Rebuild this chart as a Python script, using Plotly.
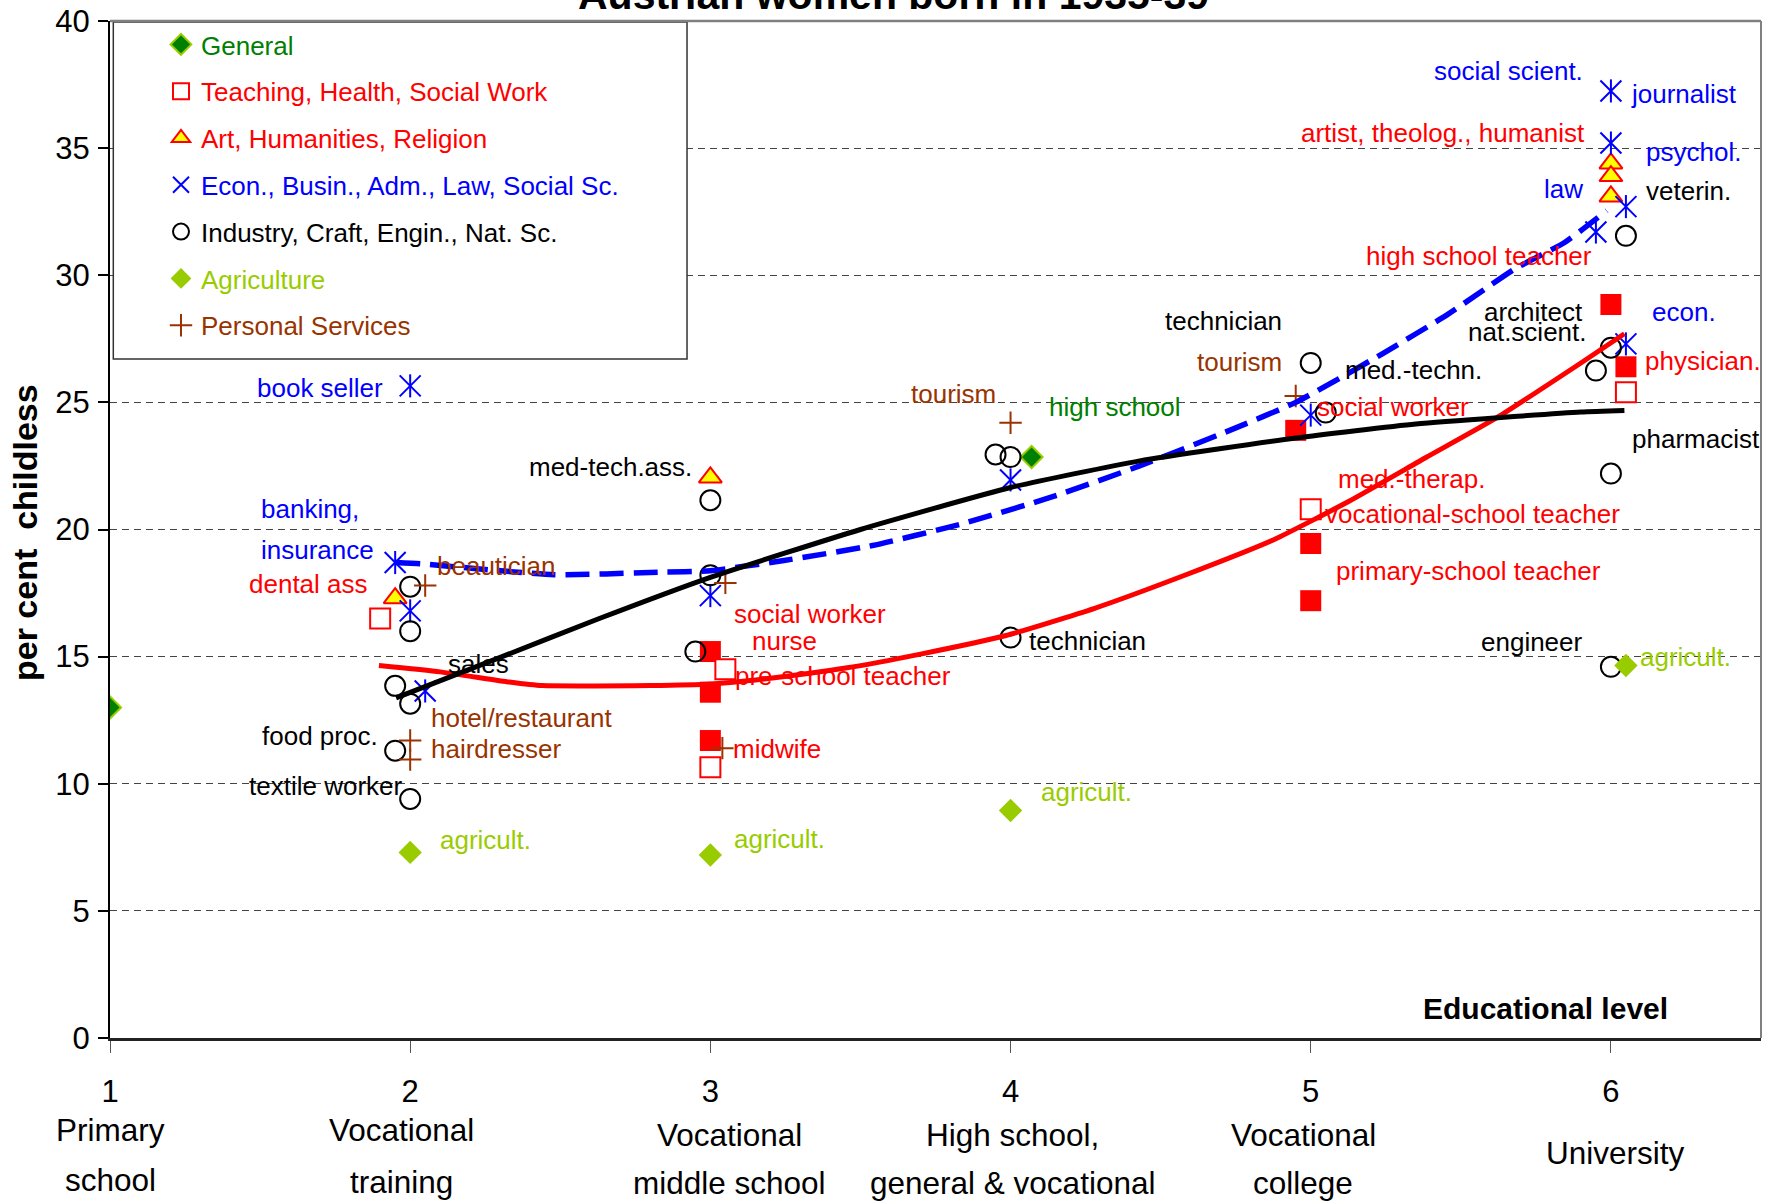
import plotly.graph_objects as go

FONT = "Liberation Sans, Arial, sans-serif"

BLUE = "#0000FF"
RED = "#FF0000"
BROWN = "#993300"
DGREEN = "#008000"
YGREEN = "#99CC00"
BLACK = "#000000"

# ---------------- data ----------------
general_x = [1.0, 4.07]
general_y = [13.0, 22.85]

teach_open_x = [1.9, 3.05, 3.0, 5.0, 6.05]
teach_open_y = [16.5, 14.5, 10.65, 20.8, 25.4]
teach_fill_x = [3.0, 3.0, 3.0, 4.95, 5.0, 5.0, 6.0, 6.05]
teach_fill_y = [15.2, 13.6, 11.7, 23.9, 19.45, 17.2, 28.85, 26.4]

art_x = [1.95, 3.0, 6.0, 6.0, 6.0]
art_y = [17.3, 22.05, 34.4, 33.9, 33.1]

econ_x = [2.0, 1.95, 2.0, 2.05, 3.0, 4.0, 5.0, 6.0, 6.0, 6.05, 5.95, 6.05]
econ_y = [25.65, 18.7, 16.8, 13.65, 17.4, 21.95, 24.5, 37.25, 35.2, 32.7, 31.7, 27.3]

ind_x = [1.95, 2.0, 2.0, 2.0, 1.95, 2.0, 3.0, 3.0, 2.95, 3.95, 4.0, 4.0,
         5.0, 5.05, 5.95, 6.0, 6.05, 6.0, 6.0]
ind_y = [13.85, 13.15, 17.75, 16.0, 11.3, 9.4, 21.15, 18.2, 15.2, 22.95, 22.85, 15.75,
         26.55, 24.6, 26.25, 27.15, 31.55, 22.2, 14.6]

agri_x = [2.0, 3.0, 4.0, 6.05]
agri_y = [7.3, 7.2, 8.95, 14.65]

pers_x = [2.05, 2.0, 2.0, 3.05, 3.04, 4.0, 4.95]
pers_y = [17.8, 11.7, 10.95, 17.9, 11.4, 24.2, 25.25]

trend_black_x = [1.953, 2.3, 2.63, 3.0, 3.5, 4.0, 4.43, 4.95, 5.35, 5.9, 6.045]
trend_black_y = [13.38, 14.97, 16.5, 18.12, 20.0, 21.65, 22.7, 23.6, 24.15, 24.62, 24.68]

trend_red_x = [1.896, 2.1, 2.33, 2.44, 2.8, 3.0, 3.2, 3.45, 3.7, 3.985, 4.28, 4.58,
               4.877, 5.126, 5.385, 5.62, 5.9, 6.045]
trend_red_y = [14.65, 14.4, 14.0, 13.86, 13.86, 13.92, 14.15, 14.55, 15.1, 15.83, 16.9, 18.2,
               19.6, 21.1, 22.84, 24.4, 26.55, 27.7]

trend_blue_x = [1.953, 2.036, 2.48, 2.83, 3.0, 3.245, 3.54, 3.837, 4.135, 4.43, 4.73, 4.95,
                5.237, 5.459, 5.68, 5.847, 5.986]
trend_blue_y = [18.7, 18.65, 18.22, 18.32, 18.38, 18.78, 19.37, 20.22, 21.27, 22.5, 23.9, 25.0,
                26.9, 28.48, 30.25, 31.3, 32.54]

level_ticks = [1, 2, 3, 4, 5, 6]
y_ticks = [0, 5, 10, 15, 20, 25, 30, 35, 40]

# category names (lines) under the level numbers: text, x, pixel row
category_lines = [
    ("Primary", 1.0, 1130), ("school", 1.0, 1180),
    ("Vocational", 1.97, 1130), ("training", 1.97, 1182),
    ("Vocational", 3.065, 1135), ("middle school", 3.065, 1183),
    ("High school,", 4.008, 1135), ("general &amp; vocational", 4.008, 1183),
    ("Vocational", 4.975, 1135), ("college", 4.975, 1183),
    ("University", 6.015, 1153),
]

# point labels: text, x, y, anchor, colour
point_labels = [
    ("book seller", 1.917, 25.56, "right", BLUE),
    ("banking,", 1.496, 20.8, "left", BLUE),
    ("insurance", 1.496, 19.2, "left", BLUE),
    ("dental ass", 1.865, 17.87, "right", RED),
    ("beautician", 2.083, 18.58, "left", BROWN),
    ("sales", 2.12, 14.71, "left", BLACK),
    ("hotel/restaurant", 2.064, 12.58, "left", BROWN),
    ("hairdresser", 2.064, 11.38, "left", BROWN),
    ("food proc.", 1.898, 11.87, "right", BLACK),
    ("textile worker", 1.981, 9.91, "right", BLACK),
    ("agricult.", 2.094, 7.78, "left", YGREEN),
    ("med-tech.ass.", 2.947, 22.44, "right", BLACK),
    ("social worker", 3.071, 16.67, "left", RED),
    ("nurse", 3.132, 15.6, "left", RED),
    ("pre-school teacher", 3.075, 14.22, "left", RED),
    ("midwife", 3.07, 11.38, "left", RED),
    ("agricult.", 3.071, 7.82, "left", YGREEN),
    ("tourism", 3.959, 25.33, "right", BROWN),
    ("high school", 4.12, 24.8, "left", DGREEN),
    ("technician", 4.056, 15.6, "left", BLACK),
    ("agricult.", 4.094, 9.69, "left", YGREEN),
    ("technician", 4.91, 28.22, "right", BLACK),
    ("tourism", 4.91, 26.58, "right", BROWN),
    ("med.-techn.", 5.109, 26.27, "left", BLACK),
    ("social worker", 5.015, 24.8, "left", RED),
    ("med.-therap.", 5.084, 21.98, "left", RED),
    ("vocational-school teacher", 5.042, 20.61, "left", RED),
    ("primary-school teacher", 5.079, 18.38, "left", RED),
    ("engineer", 5.914, 15.56, "right", BLACK),
    ("agricult.", 6.09, 14.98, "left", YGREEN),
    ("pharmacist", 6.064, 23.56, "left", BLACK),
    ("physician.", 6.108, 26.64, "left", RED),
    ("econ.", 6.13, 28.54, "left", BLUE),
    ("architect", 5.914, 28.54, "right", BLACK),
    ("nat.scient.", 5.927, 27.75, "right", BLACK),
    ("high school teacher", 5.943, 30.77, "right", RED),
    ("law", 5.914, 33.39, "right", BLUE),
    ("veterin.", 6.109, 33.33, "left", BLACK),
    ("psychol.", 6.109, 34.83, "left", BLUE),
    ("artist, theolog., humanist", 5.92, 35.6, "right", RED),
    ("social scient.", 5.914, 38.04, "right", BLUE),
    ("journalist", 6.06, 37.13, "left", BLUE),
]

# ---------------- figure ----------------
fig = go.Figure()


def legname(text, color):
    return '<span style="color:%s">%s</span>' % (color, text)


fig.add_trace(go.Scatter(
    x=general_x, y=general_y, mode="markers", name=legname("General", DGREEN),
    legendgroup="g1", legendrank=1,
    marker=dict(symbol="diamond", size=17, color=DGREEN, line=dict(color=YGREEN, width=2))))

fig.add_trace(go.Scatter(
    x=teach_fill_x, y=teach_fill_y, mode="markers", showlegend=False, legendgroup="g2",
    marker=dict(symbol="square", size=21, color=RED, line=dict(color=RED, width=0))))
fig.add_trace(go.Scatter(
    x=teach_open_x, y=teach_open_y, mode="markers",
    name=legname("Teaching, Health, Social Work", RED), legendgroup="g2", legendrank=2,
    marker=dict(symbol="square", size=20, color="white", line=dict(color=RED, width=2))))

fig.add_trace(go.Scatter(
    x=art_x, y=art_y, mode="markers", name=legname("Art, Humanities, Religion", RED),
    legendgroup="g3", legendrank=3,
    marker=dict(symbol="triangle-up", size=20, color="#FFFF00", line=dict(color=RED, width=2))))

fig.add_trace(go.Scatter(
    x=econ_x, y=econ_y, mode="markers",
    name=legname("Econ., Busin., Adm., Law, Social Sc.", BLUE), legendgroup="g4", legendrank=4,
    marker=dict(symbol="x-thin", size=21, color=BLUE, line=dict(color=BLUE, width=2))))
fig.add_trace(go.Scatter(
    x=econ_x, y=econ_y, mode="markers", showlegend=False, legendgroup="g4",
    marker=dict(symbol="line-ns", size=16.5, color=BLUE, line=dict(color=BLUE, width=2))))

fig.add_trace(go.Scatter(
    x=ind_x, y=ind_y, mode="markers",
    name=legname("Industry, Craft, Engin., Nat. Sc.", BLACK), legendgroup="g5", legendrank=5,
    marker=dict(symbol="circle-open", size=20, color=BLACK, line=dict(color=BLACK, width=2))))

fig.add_trace(go.Scatter(
    x=agri_x, y=agri_y, mode="markers", name=legname("Agriculture", YGREEN),
    legendgroup="g6", legendrank=6,
    marker=dict(symbol="diamond", size=18, color=YGREEN, line=dict(color=YGREEN, width=0))))

fig.add_trace(go.Scatter(
    x=pers_x, y=pers_y, mode="markers", name=legname("Personal Services", BROWN),
    legendgroup="g7", legendrank=7,
    marker=dict(symbol="cross-thin", size=16, color=BROWN, line=dict(color=BROWN, width=2))))

# trend curves
fig.add_trace(go.Scatter(x=trend_red_x, y=trend_red_y, mode="lines", showlegend=False,
                         line=dict(color=RED, width=5, shape="spline", smoothing=0.5)))
fig.add_trace(go.Scatter(x=trend_blue_x, y=trend_blue_y, mode="lines", showlegend=False,
                         line=dict(color=BLUE, width=5.5, dash="24px,10px", shape="spline", smoothing=0.5)))
fig.add_trace(go.Scatter(x=trend_black_x, y=trend_black_y, mode="lines", showlegend=False,
                         line=dict(color=BLACK, width=5, shape="spline", smoothing=0.5)))

annotations = []
for text, x, y, anchor, color in point_labels:
    annotations.append(dict(x=x, y=y, xref="x", yref="y", text=text, showarrow=False,
                            xanchor=anchor, yanchor="middle",
                            font=dict(family=FONT, size=26, color=color)))

for text, x, ypx in category_lines:
    annotations.append(dict(x=x, y=0, xref="x", yref="paper", yshift=-(ypx - 1038),
                            text=text, showarrow=False, xanchor="center", yanchor="middle",
                            font=dict(family=FONT, size=31.5, color=BLACK)))

annotations.append(dict(x=5.783, y=1.16, xref="x", yref="y", text="<b>Educational level</b>",
                        showarrow=False, xanchor="center", yanchor="middle",
                        font=dict(family=FONT, size=30, color=BLACK)))

annotations.append(dict(x=0.4746, y=1, xref="paper", yref="paper", yshift=26,
                        text="<b>Austrian women born in 1935-39</b>", showarrow=False,
                        xanchor="center", yanchor="middle",
                        font=dict(family=FONT, size=41, color=BLACK)))

annotations.append(dict(x=-0.0515, y=0.4975, xref="paper", yref="paper",
                        text="<b>per cent \u00a0childless</b>", showarrow=False, textangle=-90,
                        xanchor="center", yanchor="middle",
                        font=dict(family=FONT, size=34, color=BLACK)))

shapes = [
    # legend frame
    dict(type="rect", xref="paper", yref="paper", x0=0.002, x1=0.3495, y0=0.6677, y1=0.999,
         line=dict(color="#333333", width=1.5), fillcolor="white", layer="above"),
    # top and right frame
    dict(type="line", xref="paper", yref="paper", x0=0, x1=1, y0=1, y1=1,
         line=dict(color="#808080", width=2.5), layer="above"),
    dict(type="line", xref="paper", yref="paper", x0=1, x1=1, y0=0, y1=1,
         line=dict(color="#808080", width=2), layer="above"),
]

fig.update_layout(
    width=1772, height=1203,
    margin=dict(l=110, r=11, t=21, b=165, pad=0, autoexpand=False),
    paper_bgcolor="white", plot_bgcolor="white",
    showlegend=True,
    legend=dict(x=(161 - 110) / 1651, y=1.0, xanchor="left", yanchor="top",
                bgcolor="rgba(0,0,0,0)", borderwidth=0, tracegroupgap=10,
                font=dict(family=FONT, size=26, color=BLACK), itemsizing="trace",
                traceorder="grouped"),
    annotations=annotations,
    shapes=shapes,
    xaxis=dict(range=[1, 6.5], tickmode="array", tickvals=level_ticks,
               ticktext=[str(v) for v in level_ticks],
               showgrid=False, zeroline=False, showline=True, linecolor="#222222", linewidth=3,
               ticks="outside", ticklen=12, tickwidth=1, tickcolor="#555555",
               ticklabelstandoff=12,
               tickfont=dict(family=FONT, size=31, color=BLACK)),
    yaxis=dict(range=[0, 40], tickmode="array", tickvals=y_ticks,
               showgrid=True, gridcolor="#444444", gridwidth=1, griddash="7px,5px",
               zeroline=False, showline=True, linecolor=BLACK, linewidth=2,
               ticks="outside", ticklen=10, tickwidth=1.5, tickcolor=BLACK,
               ticklabelstandoff=2,
               tickfont=dict(family=FONT, size=31, color=BLACK)),
)

fig.write_html("out.html", config={"displayModeBar": False},
               post_script="document.body.style.margin='0';document.body.style.overflow='hidden';")
